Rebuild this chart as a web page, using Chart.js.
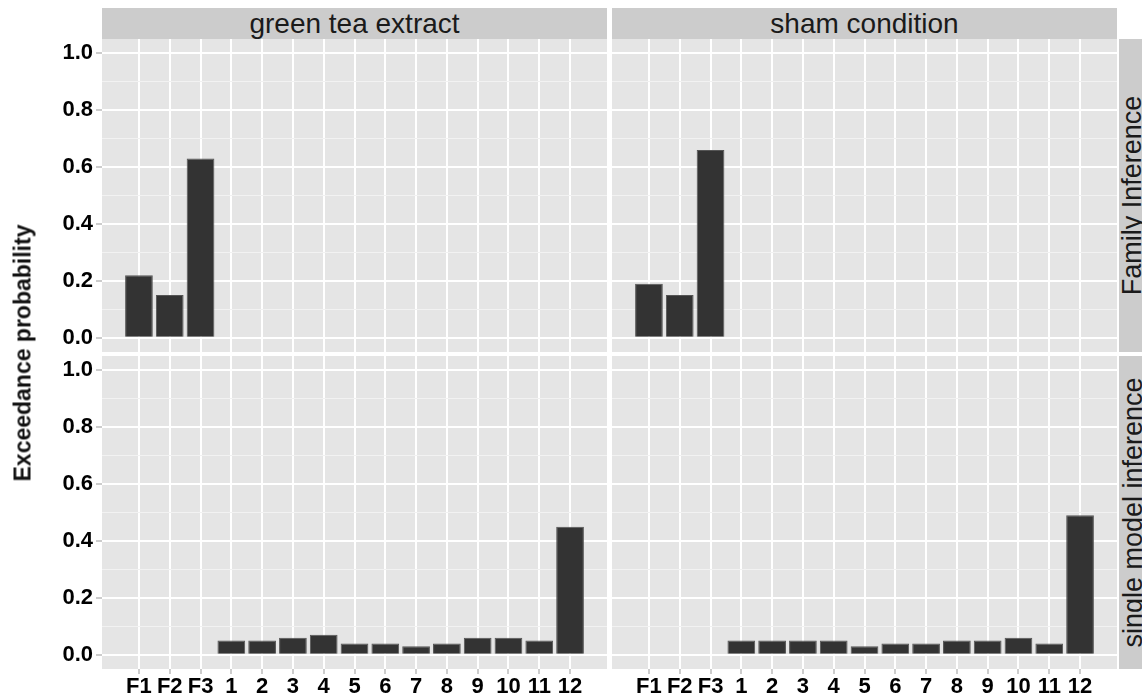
<!DOCTYPE html>
<html>
<head>
<meta charset="utf-8">
<script src="https://cdn.jsdelivr.net/npm/chart.js@4.4.0/dist/chart.umd.min.js"></script>
<style>
  html, body { margin: 0; padding: 0; background: #fff; }
  #wrap { position: relative; width: 1142px; height: 699px; overflow: hidden; background: #fff;
          font-family: "Liberation Sans", Arial, sans-serif; }
  .cv { position: absolute; }
  .strip { position: absolute; background: #CCCCCC; color: #1a1a1a; display: flex;
           align-items: center; justify-content: center; white-space: nowrap; }
  .stripTop { font-size: 28px; }
  .stripRight { font-size: 27px; }
  .stripRight span { display: block; transform: rotate(-90deg); }
  #ytitle { position: absolute; left: 23px; top: 353px; transform: translate(-50%, -50%) rotate(-90deg);
            font-size: 23px; font-weight: bold; color: #111; white-space: nowrap; }
</style>
</head>
<body>
<div id="wrap">
  <canvas id="cTL" class="cv" width="607" height="313" style="left:0px;top:39px;"></canvas>
  <canvas id="cTR" class="cv" width="505" height="313" style="left:612px;top:39px;"></canvas>
  <canvas id="cBL" class="cv" width="607" height="343" style="left:0px;top:356px;"></canvas>
  <canvas id="cBR" class="cv" width="505" height="343" style="left:612px;top:356px;"></canvas>
  <div id="stripT1" class="strip stripTop" style="left:102px;top:8px;width:505px;height:31px;"></div>
  <div id="stripT2" class="strip stripTop" style="left:612px;top:8px;width:505px;height:31px;"></div>
  <div id="stripR1" class="strip stripRight" style="left:1119px;top:39px;width:28px;height:313px;"><span></span></div>
  <div id="stripR2" class="strip stripRight" style="left:1119px;top:356px;width:28px;height:313px;"><span></span></div>
  <div id="ytitle"></div>
</div>
<script>
// ---- data ----
const categories = ['F1', 'F2', 'F3', '1', '2', '3', '4', '5', '6', '7', '8', '9', '10', '11', '12'];
const familyCategories = ['F1', 'F2', 'F3'];
const familyGreenTea = [0.22, 0.15, 0.63];
const familySham = [0.19, 0.15, 0.66];
const modelCategories = ['1', '2', '3', '4', '5', '6', '7', '8', '9', '10', '11', '12'];
const modelGreenTea = [0.05, 0.05, 0.06, 0.07, 0.04, 0.04, 0.03, 0.04, 0.06, 0.06, 0.05, 0.45];
const modelSham = [0.05, 0.05, 0.05, 0.05, 0.03, 0.04, 0.04, 0.05, 0.05, 0.06, 0.04, 0.49];
const yMajorTicks = [0, 0.2, 0.4, 0.6, 0.8, 1.0];
const yMinorTicks = [0.1, 0.3, 0.5, 0.7, 0.9];
const yTickLabels = ['0.0', '0.2', '0.4', '0.6', '0.8', '1.0'];
const columnLabels = ['green tea extract', 'sham condition'];
const rowLabels = ['Family Inference', 'single model inference'];
const yTitle = 'Exceedance probability';

// ---- text ----
document.getElementById('stripT1').textContent = columnLabels[0];
document.getElementById('stripT2').textContent = columnLabels[1];
document.querySelector('#stripR1 span').textContent = rowLabels[0];
document.querySelector('#stripR2 span').textContent = rowLabels[1];
document.getElementById('ytitle').textContent = yTitle;

const FONT = '"Liberation Sans", Arial, sans-serif';
const allY = yMajorTicks.concat(yMinorTicks).sort((a, b) => a - b);
const isMajor = v => yMajorTicks.some(m => Math.abs(m - v) < 1e-6);

const panelBg = {
  id: 'panelBg',
  beforeDraw(chart) {
    const a = chart.chartArea, c = chart.ctx;
    c.save(); c.fillStyle = '#E5E5E5';
    c.fillRect(a.left, a.top, a.right - a.left, a.bottom - a.top);
    c.restore();
  }
};

function zeroPad(s) {
  s.paddingTop = 0; s.paddingBottom = 0; s.paddingLeft = 0; s.paddingRight = 0;
}

function makeChart(id, cats, values, showY, showX) {
  const pts = cats.map((c, i) => ({ x: categories.indexOf(c), y: values[i] }));
  return new Chart(document.getElementById(id), {
    type: 'bar',
    data: { datasets: [{ data: pts, backgroundColor: '#333333', borderColor: '#555555',
                         borderWidth: 1, barPercentage: 0.9, categoryPercentage: 1.0 }] },
    options: {
      responsive: false, animation: false,
      layout: { padding: 0, autoPadding: false },
      plugins: { legend: { display: false }, tooltip: { enabled: false } },
      scales: {
        x: {
          type: 'linear', min: -1.2, max: categories.length - 1 + 1.2, offset: false,
          afterBuildTicks: s => { s.ticks = categories.map((c, i) => ({ value: i })); },
          afterFit: s => { s.height = showX ? 30 : 0; zeroPad(s); },
          border: { display: false },
          grid: { offset: false, color: '#FFFFFF', lineWidth: 2, drawTicks: showX, tickLength: 5,
                  tickColor: '#999999', tickWidth: 1 },
          ticks: { display: showX, autoSkip: false, maxRotation: 0, padding: 0,
                   color: '#000000', font: { family: FONT, size: 22, weight: 'bold' },
                   callback: v => categories[v] }
        },
        y: {
          type: 'linear', min: -0.05, max: 1.05,
          afterBuildTicks: s => { s.ticks = allY.map(v => ({ value: v })); },
          afterFit: s => { s.width = showY ? 102 : 0; zeroPad(s); },
          border: { display: false },
          grid: {
            color: ctx => isMajor(ctx.tick.value) ? '#FFFFFF' : '#F2F2F2',
            lineWidth: ctx => isMajor(ctx.tick.value) ? 2 : 1,
            drawTicks: showY, tickLength: 6,
            tickColor: ctx => isMajor(ctx.tick.value) ? '#999999' : 'rgba(0,0,0,0)',
            tickWidth: 1
          },
          ticks: { display: showY, autoSkip: false, padding: 3, color: '#000000',
                   font: { family: FONT, size: 22, weight: 'bold' },
                   callback: v => {
                     const k = yMajorTicks.findIndex(m => Math.abs(m - v) < 1e-6);
                     return k >= 0 ? yTickLabels[k] : '';
                   } }
        }
      }
    },
    plugins: [panelBg]
  });
}

makeChart('cTL', familyCategories, familyGreenTea, true, false);
makeChart('cTR', familyCategories, familySham, false, false);
makeChart('cBL', modelCategories, modelGreenTea, true, true);
makeChart('cBR', modelCategories, modelSham, false, true);
</script>
</body>
</html>
